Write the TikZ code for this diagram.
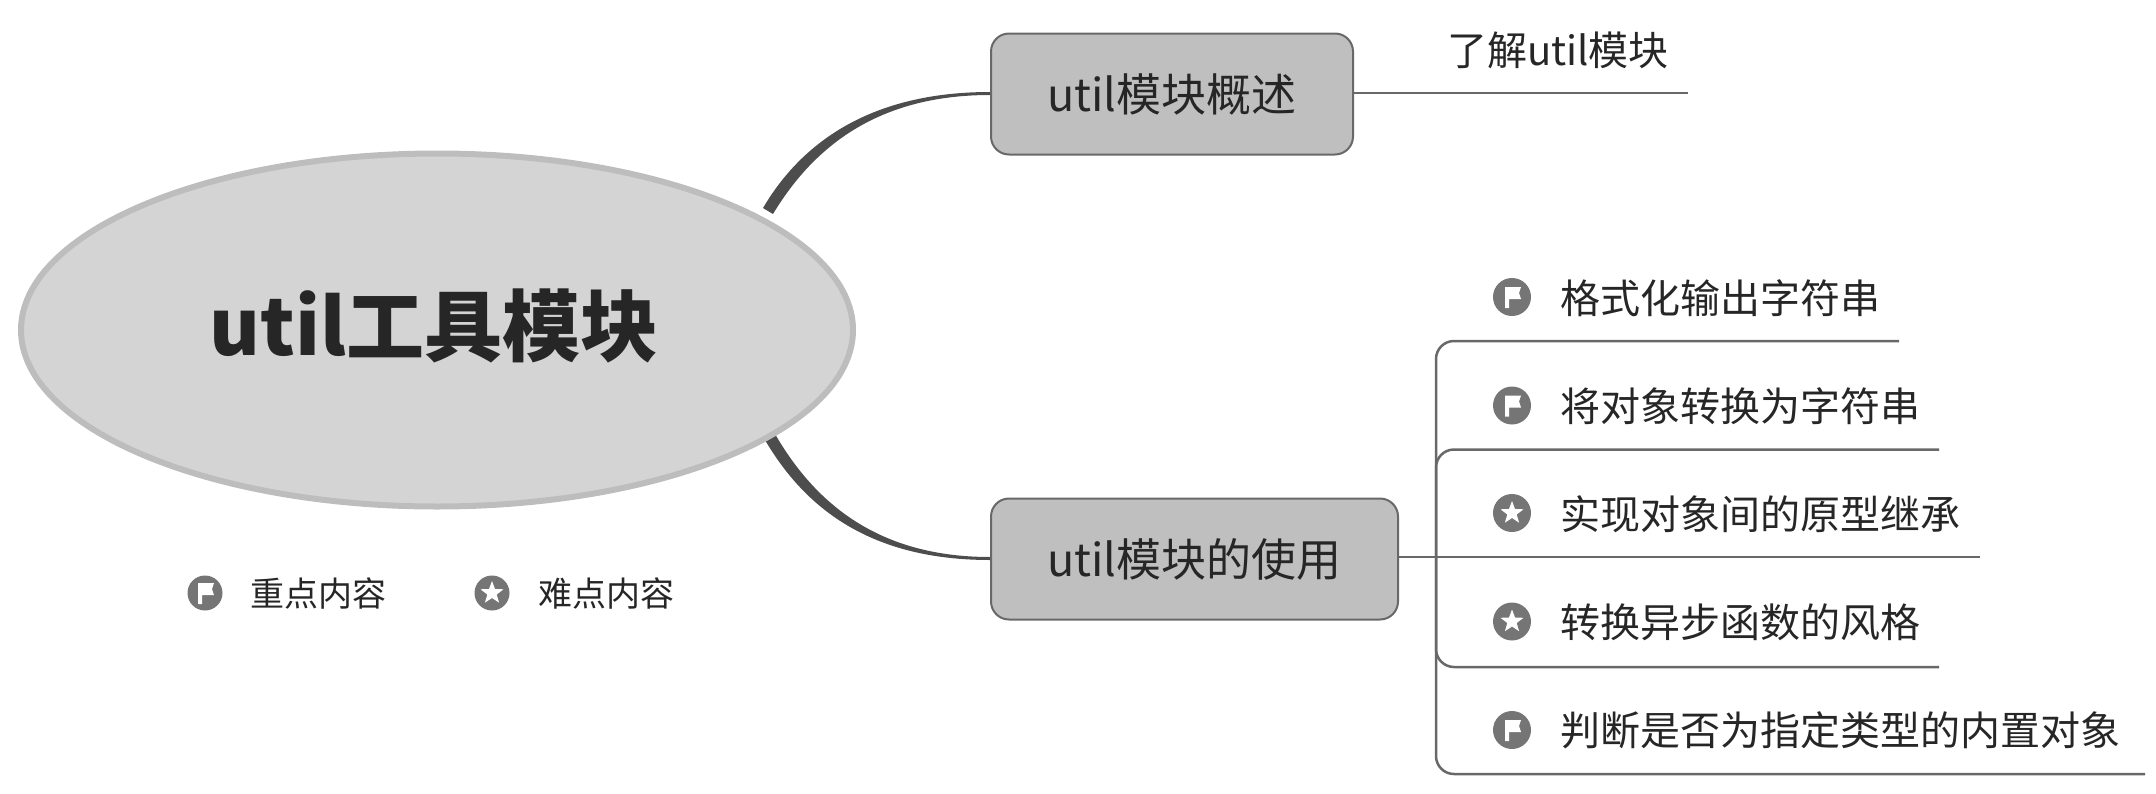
\documentclass[tikz,border=0pt]{standalone}
\usepackage{fontspec}
\setmainfont{Noto Sans CJK SC}
\usetikzlibrary{backgrounds,calc,shapes.geometric}
\definecolor{txt}{HTML}{262626}
\definecolor{lin}{HTML}{686868}
\definecolor{con}{HTML}{4D4D4D}
\definecolor{icn}{HTML}{757575}
\tikzset{
  x=1pt,y=-1pt,
  rootnode/.style={ellipse,draw=black!26,fill=black!17,line width=6pt,minimum width=832pt,minimum height=353pt,inner sep=0pt,text=txt},
  roottext/.style={inner sep=0pt,text=txt,font=\fontsize{78}{94}\bfseries\selectfont},
  topicbox/.style={rectangle,rounded corners=18pt,draw=lin,fill=black!25,line width=2pt,minimum height=121pt,inner sep=0pt,text=txt,font=\fontsize{45}{54}\selectfont},
  leaftext/.style={anchor=west,inner sep=0pt,text=txt,font=\fontsize{40}{48}\selectfont},
  legendtext/.style={anchor=west,inner sep=0pt,text=txt,font=\fontsize{34}{41}\selectfont},
  branchline/.style={draw=lin,line width=2.5pt,rounded corners=18pt},
  taper/.style={fill=con,draw=none},
  baseicon/.style={circle,fill=icn,minimum size=#1,inner sep=0pt},
  flagicon/.style={baseicon=#1,path picture={
    \fill[white,shift={(path picture bounding box.center)},scale=#1/38]
      (-7,-10)--(9,-10)--(7,-4)--(9,2)--(-3,2)--(-3,11)--(-7,11)--cycle;}},
  staricon/.style={baseicon=#1,path picture={
    \fill[white,shift={(path picture bounding box.center)},scale=#1/38]
      (0,-12)--(3,-4)--(11.5,-3.7)--(4.7,1.5)--(7.1,9.7)--(0,5)--(-7.1,9.7)--(-4.7,1.5)--(-11.5,-3.7)--(-3,-4)--cycle;}},
}
\begin{document}
\begin{tikzpicture}
\useasboundingbox (0,0) rectangle (2156,793);
% root and topics
\node[rootnode] (root) at (437,330) {};
\node[roottext] (rootlabel) at (434,326) {util工具模块};
\node[topicbox,minimum width=362pt] (b1) at (1172,94) {util模块概述};
\node[topicbox,minimum width=407pt] (b2) at (1194.5,559) {util模块的使用};
% tapered connectors
\coordinate (j1) at ($(root.center)+(331,-119)$);
\coordinate (j2) at ($(root.center)+(333,107)$);
\begin{pgfonlayer}{background}
\fill[taper] ($(j1)+(-5,-3)$) .. controls (806,135) and (880,92) .. ($(b1.west)+(0,-2)$)
  -- ($(b1.west)+(0,1)$) .. controls (884,95) and (817,141) .. ($(j1)+(5,3)$) -- cycle;
\fill[taper] ($(j2)+(-5,3)$) .. controls (805,508) and (870,560) .. ($(b2.west)+(0,1)$)
  -- ($(b2.west)+(0,-2)$) .. controls (878,557) and (815,503) .. ($(j2)+(5,-3)$) -- cycle;
\end{pgfonlayer}
% first topic leaf
\coordinate (e0) at (1688,93);
\draw[branchline] (b1.east |- e0) -- (e0);
\node[leaftext] (t0) at (1447,50) {了解util模块};
% second topic leaves
\coordinate (hub) at (1436,557);
\coordinate (e1) at (1899,341);
\coordinate (e2) at (1939,449.5);
\coordinate (e3) at (1980,557);
\coordinate (e4) at (1939,667);
\coordinate (e5) at (2145,774);
\draw[branchline] (hub) |- (e1);
\draw[branchline] (hub) |- (e2);
\draw[branchline] (b2.east |- e3) -- (e3);
\draw[branchline] (hub) |- (e4);
\draw[branchline] (hub) |- (e5);
\node[flagicon=38pt] (i1) at (1512,297) {};
\node[leaftext] (t1) at (1560,298) {格式化输出字符串};
\node[flagicon=38pt] (i2) at (1512,405.5) {};
\node[leaftext] (t2) at (1560,406.5) {将对象转换为字符串};
\node[staricon=38pt] (i3) at (1512,513) {};
\node[leaftext] (t3) at (1560,514) {实现对象间的原型继承};
\node[staricon=38pt] (i4) at (1512,621.5) {};
\node[leaftext] (t4) at (1560,622.5) {转换异步函数的风格};
\node[flagicon=38pt] (i5) at (1512,730) {};
\node[leaftext] (t5) at (1560,730.5) {判断是否为指定类型的内置对象};
% legend
\node[flagicon=35pt] (l1) at (205,593) {};
\node[legendtext] (lt1) at (250,593) {重点内容};
\node[staricon=35pt] (l2) at (492,593) {};
\node[legendtext] (lt2) at (538,593) {难点内容};
\end{tikzpicture}
\end{document}
